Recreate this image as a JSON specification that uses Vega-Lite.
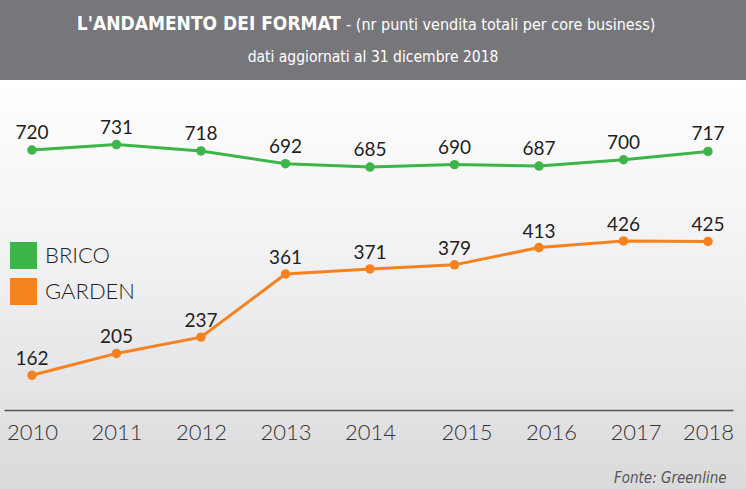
{
  "$schema": "https://vega.github.io/schema/vega-lite/v6.json",
  "padding": 0,
  "background": "#dcdcde",
  "spacing": 0,
  "config": {"view": {"stroke": null}, "font": "Lato", "concat": {"spacing": 0}},
  "vconcat": [
    {
      "width": 746,
      "height": 80,
      "view": {"fill": "#77777b", "stroke": null},
      "layer": [
        {
          "data": {"values": [{"label": "L'ANDAMENTO DEI FORMAT"}]},
          "mark": {"type": "text", "align": "right", "baseline": "middle", "dx": -32, "dy": -16, "font": "Liberation Sans Narrow, DejaVu Sans Condensed, sans-serif", "fontWeight": "bold", "fontSize": 19, "color": "#ffffff"},
          "encoding": {"text": {"field": "label"}}
        },
        {
          "data": {"values": [{"label": "- (nr punti vendita totali per core business)"}]},
          "mark": {"type": "text", "align": "left", "baseline": "middle", "dx": -27, "dy": -15, "font": "Liberation Sans Narrow, DejaVu Sans Condensed, sans-serif", "fontWeight": "normal", "fontSize": 16, "color": "#ffffff"},
          "encoding": {"text": {"field": "label"}}
        },
        {
          "data": {"values": [{"label": "dati aggiornati al 31 dicembre 2018"}]},
          "mark": {"type": "text", "align": "center", "baseline": "middle", "dx": 0, "dy": 17, "font": "Liberation Sans Narrow, DejaVu Sans Condensed, sans-serif", "fontWeight": "normal", "fontSize": 15.5, "color": "#ffffff"},
          "encoding": {"text": {"field": "label"}}
        }
      ]
    },
    {
      "width": 746,
      "height": 409,
      "data": {
        "values": [
          {"year": 2010, "series": "BRICO", "value": 720},
          {"year": 2011, "series": "BRICO", "value": 731},
          {"year": 2012, "series": "BRICO", "value": 718},
          {"year": 2013, "series": "BRICO", "value": 692},
          {"year": 2014, "series": "BRICO", "value": 685},
          {"year": 2015, "series": "BRICO", "value": 690},
          {"year": 2016, "series": "BRICO", "value": 687},
          {"year": 2017, "series": "BRICO", "value": 700},
          {"year": 2018, "series": "BRICO", "value": 717},
          {"year": 2010, "series": "GARDEN", "value": 162},
          {"year": 2011, "series": "GARDEN", "value": 205},
          {"year": 2012, "series": "GARDEN", "value": 237},
          {"year": 2013, "series": "GARDEN", "value": 361},
          {"year": 2014, "series": "GARDEN", "value": 371},
          {"year": 2015, "series": "GARDEN", "value": 379},
          {"year": 2016, "series": "GARDEN", "value": 413},
          {"year": 2017, "series": "GARDEN", "value": 426},
          {"year": 2018, "series": "GARDEN", "value": 425}
        ]
      },
      "layer": [
        {
          "data": {"values": [{"bg": 1}]},
          "mark": {
            "type": "rect",
            "strokeWidth": 0,
            "fill": {
              "gradient": "linear", "x1": 0, "y1": 0, "x2": 0, "y2": 1,
              "stops": [
                {"offset": 0, "color": "#ffffff"},
                {"offset": 0.5, "color": "#efeff1"},
                {"offset": 1, "color": "#dadadc"}
              ]
            }
          },
          "encoding": {"x": {"value": 0}, "x2": {"value": "width"}, "y": {"value": 0}, "y2": {"value": "height"}}
        },
        {
          "transform": [{"filter": "datum.series === 'BRICO'"}],
          "encoding": {
            "x": {
              "field": "year", "type": "quantitative",
              "scale": {"domain": [2009.669, 2018.296], "range": [4, 733], "nice": false, "zero": false},
              "axis": {
                "zindex": 1,
                "values": [2010, 2011, 2012, 2013, 2014, 2015, 2016, 2017, 2018],
                "format": "d", "ticks": false, "grid": false, "offset": -79,
                "domainColor": "#555555", "domainWidth": 1.5,
                "labelFontSize": 22, "labelFont": "Lato", "labelFontWeight": 300, "labelColor": "#333333",
                "labelPadding": 12, "labelFlush": false,
                "labelOffset": {"condition": {"test": "datum.value >= 2015 && datum.value <= 2017", "value": 12}, "value": 0},
                "title": "Fonte: Greenline",
                "titleFont": "Liberation Sans Narrow, DejaVu Sans Condensed, sans-serif",
                "titleFontStyle": "italic", "titleFontWeight": "normal", "titleFontSize": 15, "titleColor": "#555555",
                "titleAnchor": "end", "titleAlign": "right", "titleX": 726, "titleY": 72, "titleBaseline": "alphabetic"
              }
            },
            "y": {"field": "value", "type": "quantitative", "scale": {"domain": [25.3, 863.4], "zero": false, "nice": false}, "axis": null}
          },
          "layer": [
            {"mark": {"type": "line", "color": "#3db54a", "strokeWidth": 3}},
            {
              "mark": {"type": "point", "filled": true, "size": 90, "opacity": 1},
              "encoding": {
                "color": {
                  "field": "series", "type": "nominal",
                  "scale": {"domain": ["BRICO", "GARDEN"], "range": ["#3db54a", "#f5821f"]},
                  "legend": {"title": null, "orient": "none", "legendX": 10, "legendY": 242, "symbolType": "square", "symbolSize": 729, "symbolStrokeWidth": 0, "symbolOpacity": 1, "labelFontSize": 22, "labelFont": "Lato", "labelFontWeight": 300, "labelColor": "#231f20", "labelOffset": 8, "rowPadding": 9, "padding": 0}
                }
              }
            },
            {
              "mark": {"type": "text", "baseline": "middle", "dy": -17, "fontSize": 19, "font": "Lato", "color": "#231f20"},
              "encoding": {"text": {"field": "value", "type": "quantitative", "format": "d"}}
            }
          ]
        },
        {
          "transform": [{"filter": "datum.series === 'GARDEN'"}],
          "encoding": {
            "x": {
              "field": "year", "type": "quantitative",
              "scale": {"domain": [2009.669, 2018.296], "range": [4, 733], "nice": false, "zero": false},
              "axis": {
                "zindex": 1,
                "values": [2010, 2011, 2012, 2013, 2014, 2015, 2016, 2017, 2018],
                "format": "d", "ticks": false, "grid": false, "offset": -79,
                "domainColor": "#555555", "domainWidth": 1.5,
                "labelFontSize": 22, "labelFont": "Lato", "labelFontWeight": 300, "labelColor": "#333333",
                "labelPadding": 12, "labelFlush": false,
                "labelOffset": {"condition": {"test": "datum.value >= 2015 && datum.value <= 2017", "value": 12}, "value": 0},
                "title": "Fonte: Greenline",
                "titleFont": "Liberation Sans Narrow, DejaVu Sans Condensed, sans-serif",
                "titleFontStyle": "italic", "titleFontWeight": "normal", "titleFontSize": 15, "titleColor": "#555555",
                "titleAnchor": "end", "titleAlign": "right", "titleX": 726, "titleY": 72, "titleBaseline": "alphabetic"
              }
            },
            "y": {"field": "value", "type": "quantitative", "scale": {"domain": [-61.4, 742.2], "zero": false, "nice": false}, "axis": null}
          },
          "layer": [
            {"mark": {"type": "line", "color": "#f5821f", "strokeWidth": 3}},
            {
              "mark": {"type": "point", "filled": true, "size": 90, "opacity": 1},
              "encoding": {
                "color": {
                  "field": "series", "type": "nominal",
                  "scale": {"domain": ["BRICO", "GARDEN"], "range": ["#3db54a", "#f5821f"]},
                  "legend": {"title": null, "orient": "none", "legendX": 10, "legendY": 242, "symbolType": "square", "symbolSize": 729, "symbolStrokeWidth": 0, "symbolOpacity": 1, "labelFontSize": 22, "labelFont": "Lato", "labelFontWeight": 300, "labelColor": "#231f20", "labelOffset": 8, "rowPadding": 9, "padding": 0}
                }
              }
            },
            {
              "mark": {"type": "text", "baseline": "middle", "dy": -16, "fontSize": 19, "font": "Lato", "color": "#231f20"},
              "encoding": {"text": {"field": "value", "type": "quantitative", "format": "d"}}
            }
          ]
        }
      ],
      "resolve": {"scale": {"y": "independent"}}
    }
  ]
}
